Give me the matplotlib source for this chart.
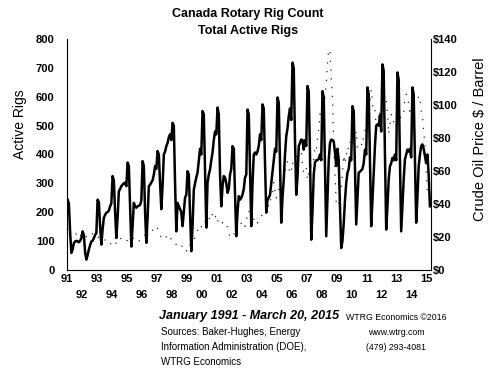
import numpy as np
import matplotlib
matplotlib.use('Agg')
import matplotlib.pyplot as plt

plt.rcParams['font.family'] = ['Liberation Sans', 'DejaVu Sans']

# Canada active rigs, monthly, Jan 1991 - Mar 2015
rigs_by_year = {
    1991: [243, 230, 130, 58, 70, 92, 98, 100, 98, 95, 100, 110],
    1992: [133, 120, 60, 35, 50, 70, 85, 98, 100, 110, 120, 128],
    1993: [243, 235, 150, 87, 140, 180, 190, 198, 200, 205, 220, 230],
    1994: [325, 310, 200, 110, 180, 272, 280, 290, 295, 300, 302, 290],
    1995: [372, 360, 220, 80, 150, 232, 220, 215, 220, 222, 225, 240],
    1996: [377, 360, 200, 93, 180, 290, 295, 303, 310, 330, 360, 350],
    1997: [412, 400, 300, 210, 290, 400, 410, 429, 440, 460, 470, 450],
    1998: [510, 500, 300, 133, 232, 220, 210, 200, 151, 200, 250, 260],
    1999: [342, 330, 200, 64, 151, 278, 300, 320, 337, 380, 420, 400],
    2000: [551, 540, 350, 146, 302, 330, 348, 380, 407, 450, 480, 470],
    2001: [563, 540, 330, 220, 290, 325, 320, 300, 267, 280, 330, 350],
    2002: [429, 420, 260, 116, 200, 255, 243, 250, 261, 280, 320, 330],
    2003: [556, 540, 350, 151, 300, 400, 407, 400, 410, 430, 470, 450],
    2004: [574, 560, 370, 198, 243, 250, 260, 300, 337, 380, 420, 410],
    2005: [598, 580, 380, 163, 250, 313, 400, 464, 490, 533, 560, 520],
    2006: [719, 700, 450, 260, 320, 429, 440, 452, 450, 417, 450, 430],
    2007: [638, 620, 400, 104, 200, 330, 372, 380, 380, 385, 400, 380],
    2008: [620, 600, 350, 116, 250, 380, 440, 452, 450, 445, 407, 360],
    2009: [420, 380, 220, 75, 100, 160, 240, 300, 337, 350, 390, 380],
    2010: [568, 550, 350, 157, 250, 337, 340, 345, 350, 370, 417, 400],
    2011: [633, 610, 380, 151, 240, 337, 429, 500, 505, 500, 536, 480],
    2012: [713, 690, 400, 139, 220, 313, 359, 370, 388, 380, 400, 380],
    2013: [685, 660, 380, 133, 220, 313, 383, 400, 417, 410, 420, 390],
    2014: [633, 610, 380, 163, 250, 359, 400, 429, 435, 420, 395, 370],
    2015: [400, 330, 220],
}

# crude oil price $/barrel, monthly (dotted line)
oil_by_year = {
    1991: [25.2, 20.5, 19.9, 20.8, 21.2, 20.2, 21.4, 21.7, 21.9, 23.2, 22.5, 19.5],
    1992: [18.8, 19.0, 18.9, 20.2, 20.9, 22.4, 21.8, 21.4, 21.9, 21.7, 20.3, 19.4],
    1993: [19.1, 20.1, 20.3, 20.3, 19.9, 19.1, 17.9, 18.0, 17.5, 18.1, 16.7, 14.5],
    1994: [15.0, 14.8, 14.7, 16.4, 17.9, 19.1, 19.7, 18.4, 17.5, 17.7, 18.1, 17.2],
    1995: [18.0, 18.6, 18.5, 19.9, 19.7, 18.4, 17.3, 18.0, 18.2, 17.4, 18.0, 19.0],
    1996: [18.9, 19.1, 21.3, 23.5, 21.2, 20.4, 21.3, 22.0, 24.0, 24.9, 23.7, 25.4],
    1997: [25.1, 22.2, 20.9, 19.7, 20.8, 19.2, 19.6, 19.9, 19.8, 21.3, 20.2, 18.3],
    1998: [16.7, 16.1, 15.0, 15.4, 14.9, 13.7, 14.1, 13.4, 15.0, 14.4, 12.9, 11.3],
    1999: [12.5, 12.0, 14.7, 17.3, 17.8, 17.9, 20.1, 21.3, 23.9, 22.6, 25.0, 26.1],
    2000: [27.2, 29.4, 29.9, 25.7, 28.8, 31.8, 29.7, 31.3, 33.9, 33.1, 34.4, 28.5],
    2001: [29.6, 29.6, 27.2, 27.4, 28.6, 27.6, 26.5, 27.5, 25.9, 22.2, 19.6, 19.3],
    2002: [19.7, 20.7, 24.4, 26.3, 27.0, 25.5, 26.9, 28.4, 29.7, 28.8, 26.3, 29.4],
    2003: [32.9, 35.9, 33.5, 28.3, 28.1, 30.7, 30.8, 31.6, 28.3, 30.3, 31.1, 32.1],
    2004: [34.3, 34.7, 36.7, 36.7, 40.3, 38.0, 40.7, 44.9, 45.9, 53.1, 48.5, 43.3],
    2005: [46.8, 48.0, 54.3, 53.0, 49.8, 56.3, 59.0, 64.9, 65.6, 62.3, 58.3, 59.4],
    2006: [65.5, 61.6, 62.7, 69.4, 70.8, 70.9, 74.4, 73.0, 63.8, 58.9, 59.1, 62.0],
    2007: [54.5, 59.3, 60.4, 63.9, 63.4, 67.5, 74.1, 72.4, 79.9, 85.8, 94.8, 91.7],
    2008: [93.0, 95.4, 105.4, 112.6, 125.4, 133.9, 133.4, 116.7, 104.1, 76.6, 57.3, 41.1],
    2009: [41.7, 39.1, 47.9, 49.7, 59.0, 69.6, 64.2, 71.1, 69.5, 75.8, 78.1, 74.5],
    2010: [78.3, 76.4, 81.2, 84.3, 73.7, 75.3, 76.3, 76.6, 75.2, 81.9, 84.3, 89.2],
    2011: [89.2, 88.6, 102.9, 109.5, 100.9, 96.3, 97.3, 86.3, 85.5, 86.3, 97.2, 98.6],
    2012: [100.3, 102.2, 106.2, 103.3, 94.7, 82.3, 87.9, 94.1, 94.5, 89.5, 86.5, 87.9],
    2013: [94.8, 95.3, 92.9, 92.0, 94.5, 95.8, 104.6, 106.6, 106.3, 100.5, 93.9, 97.6],
    2014: [94.6, 100.8, 100.8, 102.1, 102.2, 105.8, 103.6, 96.5, 93.2, 84.4, 75.8, 59.3],
    2015: [47.2, 50.6, 47.8],
}

left_ticks = list(range(0, 801, 100))
right_ticks = list(range(0, 141, 20))
odd_years = list(range(1991, 2016, 2))
even_years = list(range(1992, 2015, 2))


def to_series(d):
    t, v = [], []
    for yr, vals in d.items():
        for m, val in enumerate(vals):
            t.append(yr + (m + 0.5) / 12)
            v.append(val)
    return np.array(t), np.array(v)


t_rig, rigs = to_series(rigs_by_year)
t_oil, oil = to_series(oil_by_year)

fig = plt.figure(figsize=(5, 3.75), dpi=100)
ax = fig.add_axes([0.134, 0.281, 0.728, 0.614])
ax2 = ax.twinx()

ax2.plot(t_oil, oil, color='#222222', lw=0.9, linestyle=(0, (1, 6)))
ax.plot(t_rig, rigs, color='black', lw=1.8)
ax.set_zorder(ax2.get_zorder() + 1)
ax.patch.set_visible(False)

ax.set_xlim(1991, 2015.28)
ax.set_ylim(0, 800)
ax2.set_ylim(0, 140)

for a in (ax, ax2):
    a.spines['top'].set_visible(False)
ax.spines['right'].set_visible(False)
ax2.spines['left'].set_visible(False)
ax2.spines['bottom'].set_visible(False)

ax.set_yticks(left_ticks)
ax.set_yticklabels([str(v) for v in left_ticks], fontsize=8, fontweight='bold')
ax.tick_params(axis='y', length=0, pad=9)

ax2.set_yticks(right_ticks)
ax2.set_yticklabels(['$%d' % v for v in right_ticks], fontsize=8, fontweight='bold')
ax2.tick_params(axis='y', length=0, pad=1.5)

ax.set_xticks(odd_years)
ax.set_xticklabels(['%02d' % (y % 100) for y in odd_years], fontsize=8, fontweight='bold')
ax.set_xticks(even_years, minor=True)
ax.set_xticklabels(['%02d' % (y % 100) for y in even_years], minor=True, fontsize=8, fontweight='bold')
ax.tick_params(axis='x', which='major', length=0, pad=3)
ax.tick_params(axis='x', which='minor', length=0, pad=15)

ax.set_ylabel('Active Rigs', fontsize=10)
ax.yaxis.set_label_coords(-0.11, 0.63)
ax2.set_ylabel('Crude Oil Price $ / Barrel', fontsize=10.5)
ax2.yaxis.set_label_coords(1.115, 0.565)

fig.text(0.496, 0.962, 'Canada Rotary Rig Count', ha='center', va='center', fontsize=9, fontweight='bold')
fig.text(0.496, 0.917, 'Total Active Rigs', ha='center', va='center', fontsize=9, fontweight='bold')

fig.text(0.498, 0.157, 'January 1991 - March 20, 2015', ha='center', va='center',
         fontsize=9, fontweight='bold', style='italic')
fig.text(0.322, 0.127, 'Sources: Baker-Hughes, Energy\nInformation Administration (DOE),\nWTRG Economics',
         ha='left', va='top', fontsize=7, linespacing=1.6)
fig.text(0.792, 0.165, 'WTRG Economics \u00a92016\nwww.wtrg.com\n(479) 293-4081',
         ha='center', va='top', fontsize=6.3, linespacing=1.85)

fig.savefig('out.png', dpi=100)
